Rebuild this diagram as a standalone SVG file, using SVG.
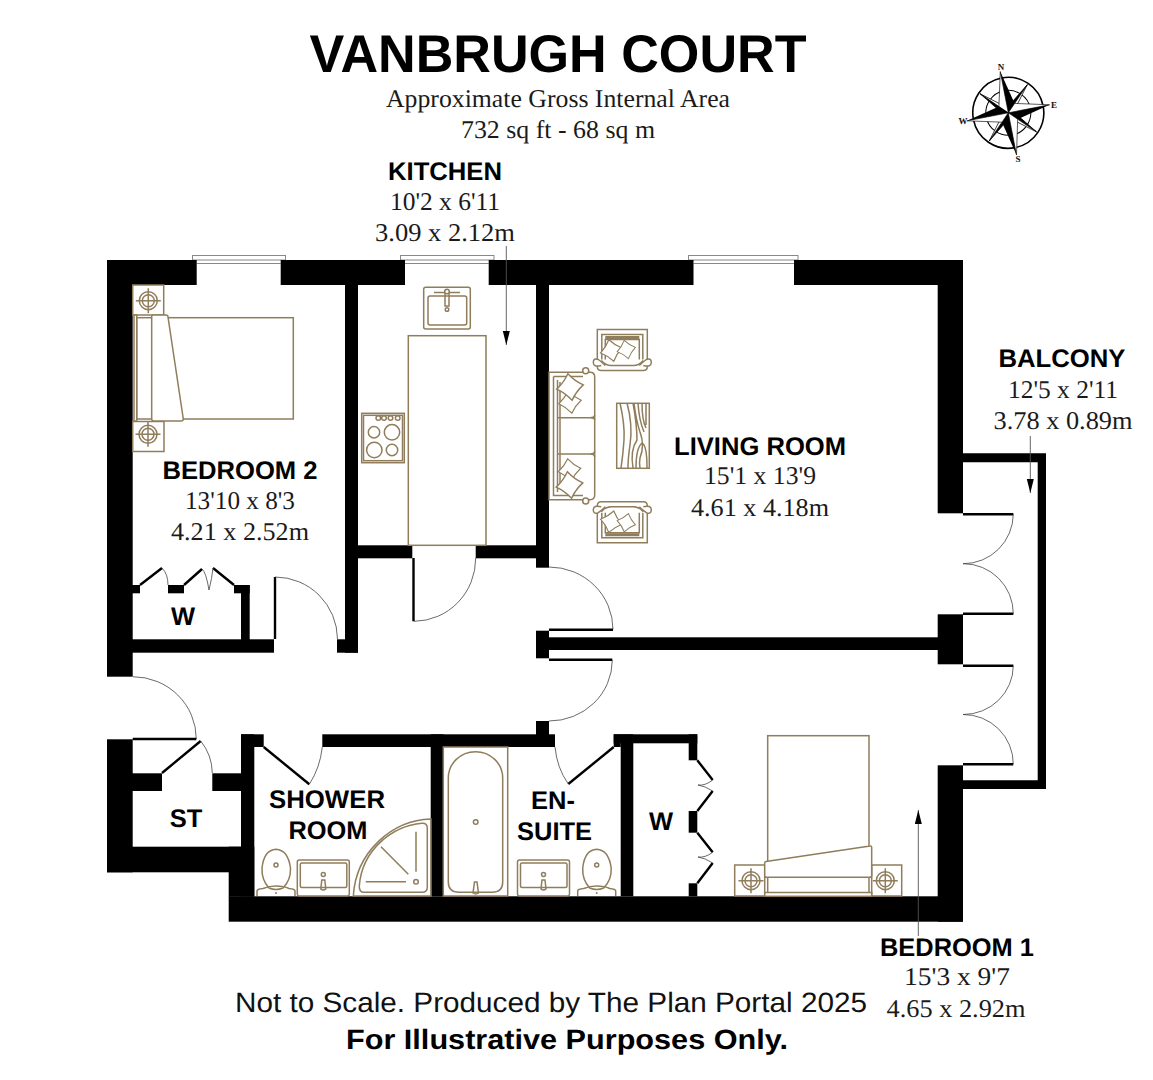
<svg xmlns="http://www.w3.org/2000/svg" width="1153" height="1080" viewBox="0 0 1153 1080">
<style>
text{text-rendering:geometricPrecision}
.w{fill:#000}
.g{fill:none;stroke:#8f7d5c;stroke-width:1.5}
.gw{fill:#fff;stroke:#8f7d5c;stroke-width:1.5}
.arc{fill:none;stroke:#444;stroke-width:.8}
.leaf{fill:none;stroke:#000;stroke-width:2.4}
.win{fill:#fff;stroke:#888;stroke-width:1}
.ld{fill:none;stroke:#555;stroke-width:.9}
.h{font-family:"Liberation Sans",Arial,sans-serif;font-weight:700;fill:#000;text-anchor:middle}
.s{font-family:"Liberation Serif","Times New Roman",serif;fill:#1a1a1a;text-anchor:middle;font-size:25.500px}
.c{font-family:"Liberation Serif",serif;font-weight:700;font-size:9px;fill:#111;text-anchor:middle}
</style>
<defs>
<marker id="ah" markerUnits="userSpaceOnUse" markerWidth="15" markerHeight="8" refX="14" refY="3.500" orient="auto"><path d="M0 0L14 3.500L0 7Z" fill="#000"/></marker>
<g id="lamp"><circle r="9" class="g"/><circle r="6" class="g"/><path d="M-12.500 0H12.500M0-12.500V12.500" class="g"/></g>
<g id="pillow"><path d="M-10-10Q0-8 10-10Q8 0 10 10Q0 8-10 10Q-8 0-10-10Z" class="gw"/></g>
<g id="toilet"><path d="M-7-4Q-14.500-12-14-24Q-12-42 0-42.700Q12-42 14.500-24Q15-12 7-4Q0-1-7-4Z" class="g" transform="translate(0,27)"/><path d="M-19 31V26Q-19 24-13 23.500Q-7 21 0 21Q8 21 13 23.500Q19 24 19 26V31" class="g"/><circle cy="0" r="2" class="g"/><circle cy="28" r="1" fill="#8f7d5c"/></g>
<g id="sink"><rect x="0" y="0" width="52" height="36" rx="2" class="g"/><rect x="3" y="3" width="46.500" height="24.500" rx="1.500" class="g"/><circle cx="26" cy="14.500" r="2" class="g"/><path d="M24.500 20H27.500L28.500 29Q26 31 23.500 29Z" class="g"/></g>
<g id="chair"><path class="gw" d="M0 0H50V37Q50 41 46 41H4Q0 41 0 37Z"/><path d="M4.500 30V5H45.500V30M8 30V10H42V30" class="g"/><path d="M8 8H42" stroke="#8f7d5c" stroke-width="3"/><path d="M4 31Q8 36 14 36H36Q42 36 46 31" class="g"/><path class="gw" d="M4 36Q-4 38-4 33Q-4 28 1 30Q4 32 8 36M46 36Q54 38 54 33Q54 28 49 30Q46 32 42 36"/><use href="#pillow" transform="translate(14,21) rotate(32) scale(.78)"/><use href="#pillow" transform="translate(29,20) rotate(32) scale(.66)"/></g>
</defs>
<rect width="1153" height="1080" fill="#fff"/>

<g id="title">
<text class="h" x="558" y="71.700" font-size="53" textLength="497" lengthAdjust="spacingAndGlyphs">VANBRUGH COURT</text>
<text class="s" x="558" y="107" textLength="344" lengthAdjust="spacingAndGlyphs">Approximate Gross Internal Area</text>
<text class="s" x="558" y="138" textLength="194" lengthAdjust="spacingAndGlyphs">732 sq ft - 68 sq m</text>
</g>

<g id="compass">
<g transform="translate(1008.300,112.800) rotate(-11)">
<circle r="35.500" fill="none" stroke="#000" stroke-width="1.600"/>
<circle r="22.500" fill="none" stroke="#000" stroke-width="1"/>
<g id="minor" stroke="#000" stroke-width=".7">
<path d="M0 0L24-24L6-10Z" fill="#000"/><path d="M0 0L24-24L10-6Z" fill="#fff"/>
<path d="M0 0L24 24L10 6Z" fill="#000"/><path d="M0 0L24 24L6 10Z" fill="#fff"/>
<path d="M0 0L-24 24L-6 10Z" fill="#000"/><path d="M0 0L-24 24L-10 6Z" fill="#fff"/>
<path d="M0 0L-24-24L-10-6Z" fill="#000"/><path d="M0 0L-24-24L-6-10Z" fill="#fff"/>
</g>
<path d="M0-42L-8-8L0 0Z" fill="#fff" stroke="#000" stroke-width=".6"/><path d="M0-42L8-8L0 0Z" fill="#000"/>
<path d="M42 0L8-8L0 0Z" fill="#fff" stroke="#000" stroke-width=".6"/><path d="M42 0L8 8L0 0Z" fill="#000"/>
<path d="M0 43L8 8L0 0Z" fill="#fff" stroke="#000" stroke-width=".6"/><path d="M0 43L-8 8L0 0Z" fill="#000"/>
<path d="M-42 0L-8 8L0 0Z" fill="#fff" stroke="#000" stroke-width=".6"/><path d="M-42 0L-8-8L0 0Z" fill="#000"/>
</g>
<text class="c" x="1001" y="70">N</text><text class="c" x="1054" y="108">E</text><text class="c" x="1018" y="162">S</text><text class="c" x="963" y="124">W</text>
</g>

<g id="windows">
<rect class="win" x="192.500" y="255.500" width="93" height="4.500"/><path d="M196.700 263.500H280.700" class="win"/>
<rect class="win" x="400.500" y="255.500" width="93.500" height="4.500"/><path d="M405 263.500H488.700" class="win"/>
<rect class="win" x="688.500" y="255.500" width="109.500" height="4.500"/><path d="M693.500 263.500H794" class="win"/>
</g>

<g id="walls">
<rect class="w" x="107" y="260" width="89.700" height="25"/>
<rect class="w" x="280.700" y="260" width="124.300" height="25"/>
<rect class="w" x="488.700" y="260" width="204.800" height="25"/>
<rect class="w" x="794" y="260" width="169" height="25"/>
<rect class="w" x="107" y="260" width="25.700" height="416.700"/>
<rect class="w" x="132" y="639.300" width="142" height="13.400"/>
<rect class="w" x="337" y="639.300" width="21" height="13.400"/>
<rect class="w" x="345" y="285" width="13" height="367.700"/>
<rect class="w" x="241" y="585" width="8.700" height="55"/>
<rect class="w" x="132" y="585" width="8" height="8.300"/>
<rect class="w" x="168" y="585" width="16" height="8.300"/>
<rect class="w" x="234" y="585" width="15.700" height="8.300"/>
<rect class="w" x="358" y="545.300" width="54.300" height="13"/>
<rect class="w" x="475.700" y="545.300" width="60.300" height="13"/>
<rect class="w" x="536" y="285" width="13" height="282.700"/>
<rect class="w" x="536" y="630.700" width="13" height="27.600"/>
<rect class="w" x="549" y="637.300" width="389" height="12.700"/>
<rect class="w" x="536" y="721" width="13" height="14"/>
<rect class="w" x="322.300" y="734.300" width="232.700" height="12.700"/>
<rect class="w" x="241" y="734.300" width="22.700" height="12.700"/>
<rect class="w" x="241" y="734.300" width="13.300" height="162"/>
<rect class="w" x="430.700" y="734.300" width="12.800" height="162"/>
<rect class="w" x="613.700" y="734.300" width="83.600" height="9"/>
<rect class="w" x="613.700" y="734.300" width="7" height="12.700"/>
<rect class="w" x="620.700" y="734.300" width="12.600" height="162"/>
<rect class="w" x="688.700" y="734.300" width="8.600" height="26"/>
<rect class="w" x="688.700" y="811" width="8.600" height="21.700"/>
<rect class="w" x="688.700" y="883.300" width="8.600" height="13"/>
<rect class="w" x="228.700" y="896.300" width="734.300" height="25.400"/>
<rect class="w" x="228.700" y="846.700" width="25.600" height="50"/>
<rect class="w" x="107" y="739.300" width="25.700" height="133"/>
<rect class="w" x="107" y="846.700" width="134" height="25.600"/>
<rect class="w" x="132" y="773.300" width="30" height="17.700"/>
<rect class="w" x="212.300" y="773.300" width="29" height="17.700"/>
<rect class="w" x="937.700" y="260" width="25.300" height="253.300"/>
<rect class="w" x="937.700" y="614.300" width="25.300" height="50"/>
<rect class="w" x="937.700" y="765.300" width="25.300" height="156.400"/>
<path class="w" fill-rule="evenodd" d="M963 453.300H1046V789H963V780.300H1037.700V462.300H963Z"/>
</g>

<g id="doors">
<path class="leaf" d="M275 639V577"/><path class="arc" d="M275 577A62.500 62.500 0 0 1 337.500 639"/>
<path class="leaf" d="M140 585L162 568M184 585L202 569M213 568L234 585"/>
<path class="arc" d="M162 568Q168 574 168 585M202 569Q206 572 209 590Q212 578 213 568"/>
<path class="leaf" d="M413.500 558V621.300"/><path class="arc" d="M414 621.300A62 63 0 0 0 475.700 558"/>
<path class="arc" d="M549 567A64 62.500 0 0 1 613 629.500"/><path class="leaf" d="M549 629.800H613"/>
<path class="leaf" d="M549 659.800H612.300"/><path class="arc" d="M612.300 660A63 61 0 0 1 549 721"/>
<path class="leaf" d="M613.700 747L568.300 784"/><path class="arc" d="M568.300 784Q557 768 555 747"/>
<path class="leaf" d="M697.300 760.300L712.700 780M712.700 791L697.300 811M697.300 832.700L712.700 852.300M712.700 863L697.300 883.300"/>
<path class="arc" d="M712.700 780Q705 786 698 785Q705 786 712.700 791M712.700 852.300Q705 858 698 857Q705 858 712.700 863"/>
<path class="leaf" d="M963 514.300H1013.300M963 613.800H1013.300M963 665.800H1013.300M963 764.300H1013.300"/>
<path class="arc" d="M1013.300 514A50 50 0 0 1 963 563.700A50 50 0 0 1 1013.300 614M1013.300 665.500A50 49 0 0 1 963 714.500A50 49.500 0 0 1 1013.300 764"/>
<path class="arc" d="M132.700 676.700A63.600 62.300 0 0 1 196.300 739"/><path class="leaf" d="M132.700 739H196.300"/>
<path class="leaf" d="M162 773L200.700 741"/><path class="arc" d="M200.700 741Q212 755 212.300 773"/>
<path class="leaf" d="M263.700 747L309.300 784.300"/><path class="arc" d="M309.300 784.300Q320 768 322.300 747"/>
</g>

<g id="furniture">
<g id="bed-2">
<rect class="g" x="132.700" y="285" width="31" height="30"/><rect class="g" x="132.700" y="421.500" width="31.300" height="30"/>
<use href="#lamp" x="148.300" y="300.700"/><use href="#lamp" x="148" y="434.300"/>
<rect class="g" x="136.700" y="317.700" width="156.600" height="101.300"/>
<rect class="gw" x="134" y="315" width="2.700" height="106"/>
<path class="gw" d="M153 315H166Q168 315 168 317L183.300 419Q183.300 421 181 421H154Q151.700 421 151.700 419V317Q151.700 315 153 315Z"/>
</g>
<g id="bed-1">
<rect class="g" x="734.700" y="865" width="30" height="31"/><rect class="g" x="871.700" y="865" width="30" height="31"/>
<use href="#lamp" x="751" y="880.700"/><use href="#lamp" x="885.300" y="880.700"/>
<rect class="g" x="767.700" y="735.700" width="101.300" height="160.600"/>
<rect class="gw" x="764.700" y="892.500" width="107" height="3.800"/>
<path class="gw" d="M766 861.500L870 846Q871.700 845.700 871.700 847.500V875.500Q871.700 877.300 870 877.300H766.500Q764.700 877.300 764.700 875.500V863Q764.700 861.700 766 861.500Z"/>
</g>
<g id="kitchen-units">
<rect class="g" x="408.300" y="335.700" width="77.700" height="209.600"/>
<rect class="g" x="423.700" y="287.300" width="46.600" height="41.700" rx="2"/>
<rect class="g" x="428" y="296" width="38.700" height="29" rx="2"/>
<path class="g" d="M434 292.500H460M445 292V306H449V292Z"/><circle class="g" cx="447" cy="309.500" r="1.800"/><circle class="gw" cx="447" cy="291.500" r="2.300"/>
<rect class="g" x="361.700" y="413.300" width="42.600" height="49.400"/>
<rect class="g" x="363.500" y="415.300" width="39" height="45.400"/>
<circle class="g" cx="378.300" cy="418" r="2.300"/><circle class="g" cx="384" cy="418" r="2.300"/><circle class="g" cx="390.500" cy="418" r="2.300"/><circle class="g" cx="397.700" cy="418" r="2.300"/>
<circle class="g" cx="374" cy="432.300" r="5.700"/><circle class="g" cx="392" cy="432.300" r="7.700"/><circle class="g" cx="374.300" cy="450" r="7.700"/><circle class="g" cx="392" cy="450" r="5.700"/>
</g>
<g id="sofa">
<path class="g" d="M549 372.300H590Q594.700 372.300 594.700 377V495Q594.700 499.700 590 499.700H549Z"/>
<path class="g" d="M553.500 376.500H583M553.500 376.500V495.500H583M557.500 380V492M560 382V489"/>
<path class="g" d="M557.500 417.700H590Q594.700 417.700 594.700 420M594.700 415Q594.700 417.700 590 417.700M557.500 454H590Q594.700 454 594.700 451M594.700 457Q594.700 454 590 454"/>
<circle class="gw" cx="585.700" cy="370.700" r="3"/><circle class="gw" cx="585.700" cy="501" r="3"/>
<use href="#pillow" transform="translate(570,402) rotate(36) scale(.8)"/><use href="#pillow" transform="translate(570,387) rotate(36) scale(.95)"/>
<use href="#pillow" transform="translate(569.500,470) rotate(36) scale(.8)"/><use href="#pillow" transform="translate(569.500,485) rotate(36) scale(.95)"/>
</g>
<use id="chair-top" href="#chair" x="597.300" y="329.500"/>
<use id="chair-bottom" href="#chair" transform="translate(597.300,542.700) scale(1,-1)"/>
<g id="coffee-table">
<rect class="g" x="616.700" y="403.300" width="32.600" height="65"/>
<path class="g" stroke-width="1" d="M620 403Q625 425 624 440T621 468M627 403Q633 425 630 445Q628 458 628 468M633 403Q637 425 637 440Q630 450 633 468M634 403Q636 420 640 432Q645 445 640 458Q639 463 640 468M638 403Q639 420 644 432M642 403Q642 420 646 428M646 403V425M636 468Q636 448 642 443Q647 445 647 468"/>
</g>
<g id="shower-fixtures">
<use href="#toilet" x="276" y="865"/><use href="#sink" x="297.300" y="860"/>
<path class="g" d="M353.300 896C356 852 392 820 431 819V896Z"/>
<path class="g" d="M359.300 886C362 850 392 826 422 823.300Q427.300 823 427.300 828V887Q427.300 892.300 422 892.300H364Q359 892.300 359.300 886Z"/>
<path class="g" d="M365.700 881.700H406M416 831.700V871.700M381 846.700L408.300 874.300"/><circle class="g" cx="416" cy="881.700" r="2.300"/>
</g>
<g id="ensuite-fixtures">
<rect class="g" x="443.300" y="747" width="64.400" height="149"/>
<path class="g" d="M448.300 778A27.200 26.300 0 0 1 502.700 778V882Q502.700 892.300 492 892.300H459Q448.300 892.300 448.300 882Z"/>
<circle class="g" cx="475.700" cy="822" r="2.300"/><path class="g" d="M474.500 882H477L478.500 893Q475.700 895 473 893Z"/>
<use href="#sink" x="517.500" y="860"/><use href="#toilet" x="596.700" y="865"/>
</g>
</g>

<g id="connectors">
<path class="ld" d="M506.300 246V345" marker-end="url(#ah)"/>
<path class="ld" d="M1030.300 436V493" marker-end="url(#ah)"/>
<path class="ld" d="M918.300 936V810" marker-end="url(#ah)"/>
</g>

<g id="labels">
<g id="lbl-kitchen"><text class="h" x="445" y="180" font-size="25.500" textLength="114" lengthAdjust="spacingAndGlyphs">KITCHEN</text><text class="s" x="445" y="210" textLength="110" lengthAdjust="spacingAndGlyphs">10'2 x 6'11</text><text class="s" x="445" y="240.500" textLength="140" lengthAdjust="spacingAndGlyphs">3.09 x 2.12m</text></g>
<g id="lbl-balcony"><text class="h" x="1062" y="367" font-size="25.500" textLength="127" lengthAdjust="spacingAndGlyphs">BALCONY</text><text class="s" x="1063" y="398" textLength="110" lengthAdjust="spacingAndGlyphs">12'5 x 2'11</text><text class="s" x="1063" y="429" textLength="139" lengthAdjust="spacingAndGlyphs">3.78 x 0.89m</text></g>
<g id="lbl-living"><text class="h" x="760" y="455" font-size="25.500" textLength="172" lengthAdjust="spacingAndGlyphs">LIVING ROOM</text><text class="s" x="760" y="484" textLength="112" lengthAdjust="spacingAndGlyphs">15'1 x 13'9</text><text class="s" x="760" y="516" textLength="138" lengthAdjust="spacingAndGlyphs">4.61 x 4.18m</text></g>
<g id="lbl-bed2"><text class="h" x="240" y="479" font-size="25.500" textLength="155" lengthAdjust="spacingAndGlyphs">BEDROOM 2</text><text class="s" x="240" y="509" textLength="110" lengthAdjust="spacingAndGlyphs">13'10 x 8'3</text><text class="s" x="240" y="540" textLength="138" lengthAdjust="spacingAndGlyphs">4.21 x 2.52m</text></g>
<g id="lbl-bed1"><text class="h" x="957" y="956" font-size="25.500" textLength="154" lengthAdjust="spacingAndGlyphs">BEDROOM 1</text><text class="s" x="957" y="985" textLength="106" lengthAdjust="spacingAndGlyphs">15'3 x 9'7</text><text class="s" x="956" y="1017" textLength="139" lengthAdjust="spacingAndGlyphs">4.65 x 2.92m</text></g>
<text class="h" x="183" y="625" font-size="25.500">W</text>
<text class="h" x="186" y="827" font-size="25.500">ST</text>
<text class="h" x="661" y="830" font-size="25.500">W</text>
<text class="h" x="327" y="808" font-size="25.500" textLength="116" lengthAdjust="spacingAndGlyphs">SHOWER</text>
<text class="h" x="328" y="839" font-size="25.500" textLength="79" lengthAdjust="spacingAndGlyphs">ROOM</text>
<text class="h" x="553" y="809" font-size="25.500">EN-</text>
<text class="h" x="554.500" y="840" font-size="25.500" textLength="75" lengthAdjust="spacingAndGlyphs">SUITE</text>
</g>
<g id="footer">
<text x="551" y="1011.700" font-family="Liberation Sans,Arial,sans-serif" font-size="28" text-anchor="middle" fill="#111" textLength="632" lengthAdjust="spacingAndGlyphs">Not to Scale. Produced by The Plan Portal 2025</text>
<text class="h" x="567" y="1048.500" font-size="28" textLength="442" lengthAdjust="spacingAndGlyphs">For Illustrative Purposes Only.</text>
</g>
</svg>
